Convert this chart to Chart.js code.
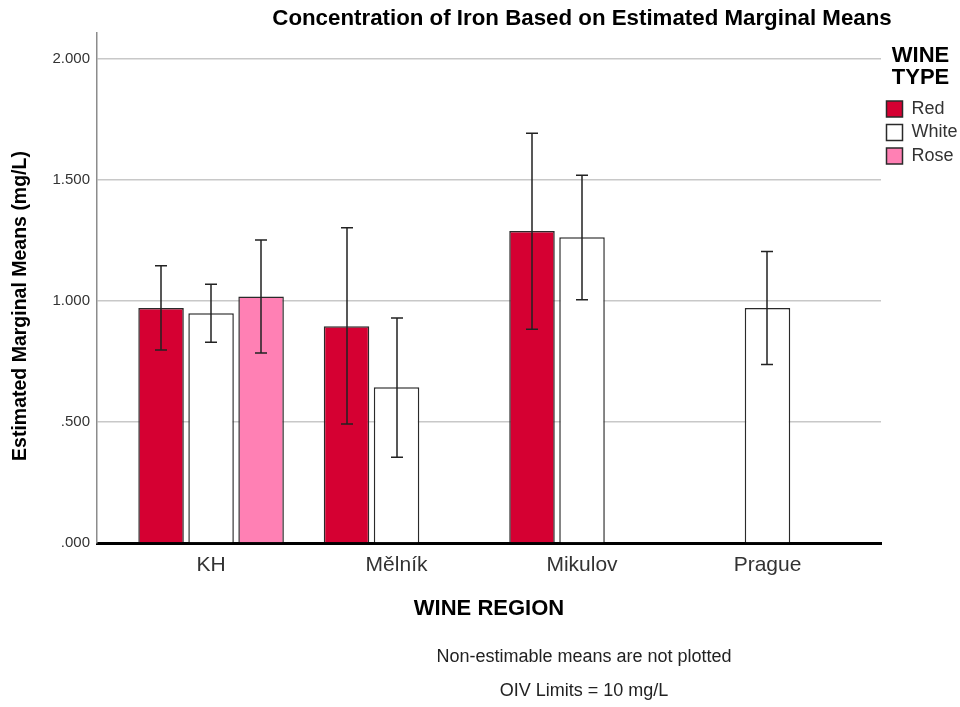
<!DOCTYPE html>
<html>
<head>
<meta charset="utf-8">
<title>Concentration of Iron Based on Estimated Marginal Means</title>
<script src="https://cdn.jsdelivr.net/npm/chart.js@4.4.1/dist/chart.umd.min.js"></script>
<style>
    html, body { margin: 0; padding: 0; background: #fff; }
    #wrap { width: 960px; height: 707px; }
</style>
</head>
<body>
<div id="wrap"><canvas id="iron-chart" width="960" height="707"></canvas></div>
<script>
// Categories
const regions = ['KH', 'Mělník', 'Mikulov', 'Prague'];

// Estimated marginal means of iron (mg/L); null = non-estimable
const redMeans   = [0.971, 0.895, 1.289, null];
const whiteMeans = [0.949, 0.643, 1.263, 0.971];
const roseMeans  = [1.018, null, null, null];

// Error bar bounds
const redLower   = [0.797, 0.492, 0.883, null];
const redUpper   = [1.145, 1.302, 1.693, null];
const whiteLower = [0.829, 0.354, 1.005, 0.737];
const whiteUpper = [1.069, 0.930, 1.519, 1.204];
const roseLower  = [0.785, null, null, null];
const roseUpper  = [1.252, null, null, null];

// Value axis ticks
const yTicks = [0, 0.5, 1, 1.5, 2];
const yTickLabels = ['.000', '.500', '1.000', '1.500', '2.000'];

const FONT = '"Liberation Sans", Arial, sans-serif';
Chart.defaults.font.family = FONT;

function toPoints(values) {
    return values.map((v, i) => ({ x: i, y: v }));
}

// Whiskers with caps, drawn over each bar from its lower/upper arrays
const errorBars = {
    id: 'errorBars',
    afterDatasetsDraw(chart) {
        const ctx = chart.ctx;
        const yScale = chart.scales.y;
        ctx.save();
        ctx.strokeStyle = '#222';
        ctx.lineWidth = 1.5;
        chart.data.datasets.forEach((ds, di) => {
            const meta = chart.getDatasetMeta(di);
            meta.data.forEach((bar, i) => {
                const lo = ds.lower[i];
                const hi = ds.upper[i];
                if (lo == null || hi == null) return;
                const x = Math.round(bar.x);
                const yTop = yScale.getPixelForValue(hi);
                const yBot = yScale.getPixelForValue(lo);
                ctx.beginPath();
                ctx.moveTo(x, yTop);
                ctx.lineTo(x, yBot);
                ctx.moveTo(x - 6, yTop);
                ctx.lineTo(x + 6, yTop);
                ctx.moveTo(x - 6, yBot);
                ctx.lineTo(x + 6, yBot);
                ctx.stroke();
            });
        });
        ctx.restore();
    }
};

// Title, value axis title and footnotes
const chartText = {
    id: 'chartText',
    afterDraw(chart) {
        const ctx = chart.ctx;
        ctx.save();
        ctx.textAlign = 'center';
        ctx.textBaseline = 'middle';

        ctx.fillStyle = '#000';
        ctx.font = 'bold 22.3px ' + FONT;
        ctx.fillText('Concentration of Iron Based on Estimated Marginal Means', 582, 19);

        ctx.save();
        ctx.translate(21, 306);
        ctx.rotate(-Math.PI / 2);
        ctx.font = 'bold 19.5px ' + FONT;
        ctx.fillText('Estimated Marginal Means (mg/L)', 0, 0);
        ctx.restore();

        ctx.fillStyle = '#222';
        ctx.font = '18px ' + FONT;
        ctx.fillText('Non-estimable means are not plotted', 584, 657);
        ctx.fillText('OIV Limits = 10 mg/L', 584, 691);
        ctx.restore();
    }
};

const ctx = document.getElementById('iron-chart').getContext('2d');
const ironChart = new Chart(ctx, {
    type: 'bar',
    data: {
        datasets: [{
            label: 'Red',
            data: toPoints(redMeans),
            backgroundColor: '#d50032',
            borderColor: '#2a2a2a',
            borderWidth: 1.5,
            lower: redLower,
            upper: redUpper
        }, {
            label: 'White',
            data: toPoints(whiteMeans),
            backgroundColor: '#ffffff',
            borderColor: '#2a2a2a',
            borderWidth: 1.5,
            lower: whiteLower,
            upper: whiteUpper
        }, {
            label: 'Rose',
            data: toPoints(roseMeans),
            backgroundColor: '#ff80b4',
            borderColor: '#2a2a2a',
            borderWidth: 1.5,
            lower: roseLower,
            upper: roseUpper
        }]
    },
    options: {
        responsive: false,
        animation: false,
        categoryPercentage: 0.809,
        barPercentage: 0.91,
        layout: {
            padding: { top: 33, right: 0, bottom: 80, left: 0 }
        },
        scales: {
            x: {
                type: 'linear',
                offset: false,
                min: -0.615,
                max: 3.612,
                afterBuildTicks: (scale) => {
                    scale.ticks = regions.map((_, i) => ({ value: i }));
                },
                afterFit: (scale) => { scale.height = 84; },
                ticks: {
                    callback: (value) => regions[value],
                    font: { size: 21 },
                    color: '#333',
                    padding: 10,
                    autoSkip: false,
                    maxRotation: 0
                },
                grid: { display: false, drawTicks: false, offset: false },
                border: { display: true, color: '#000', width: 3 },
                title: {
                    display: true,
                    text: 'WINE REGION',
                    color: '#000',
                    font: { size: 22, weight: 'bold' },
                    padding: { top: 0, bottom: 5 }
                }
            },
            y: {
                min: 0,
                max: 2.107,
                afterBuildTicks: (scale) => {
                    scale.ticks = yTicks.map(v => ({ value: v }));
                },
                afterFit: (scale) => { scale.width = 97; },
                ticks: {
                    callback: (value, index) => yTickLabels[index],
                    font: { size: 15 },
                    color: '#333',
                    padding: 7
                },
                grid: { color: '#c8c8c8', lineWidth: 1.5, drawTicks: false },
                border: { color: '#8c8c8c', width: 1.5 }
            }
        },
        plugins: {
            legend: {
                position: 'right',
                align: 'start',
                maxWidth: 79,
                title: {
                    display: true,
                    text: ['WINE', 'TYPE'],
                    color: '#000',
                    font: { size: 22, weight: 'bold', lineHeight: 1 },
                    padding: { top: 11.5, bottom: 28 }
                },
                labels: {
                    boxWidth: 16,
                    boxHeight: 16,
                    padding: 5.5,
                    color: '#333',
                    font: { size: 18 }
                }
            },
            tooltip: { enabled: false }
        }
    },
    plugins: [errorBars, chartText]
});
</script>
</body>
</html>
